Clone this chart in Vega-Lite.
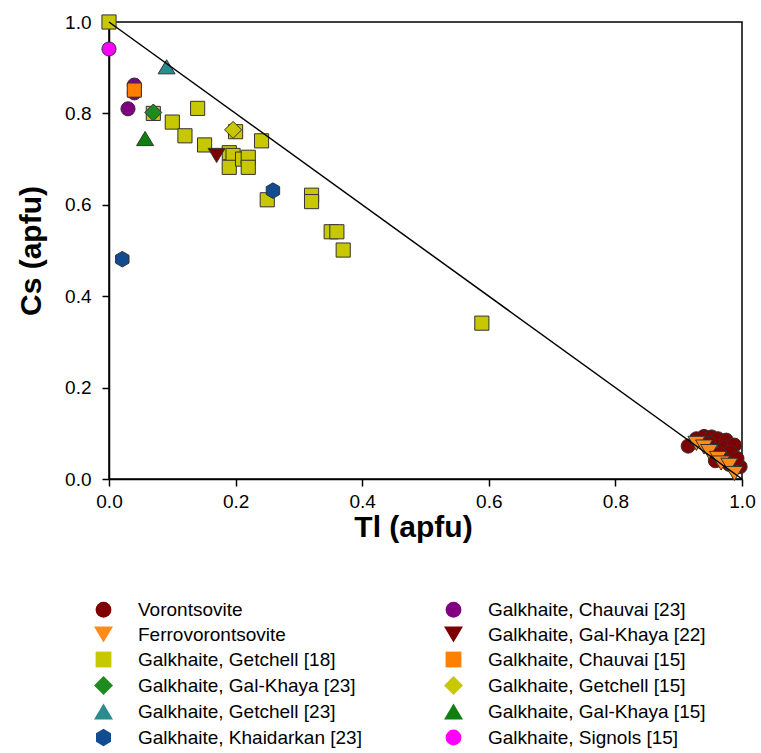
{
  "$schema": "https://vega.github.io/schema/vega-lite/v6.json",
  "autosize": "none",
  "width": 633,
  "height": 457,
  "padding": {"left": 109, "top": 22, "right": 19, "bottom": 274},
  "background": "white",
  "config": {
    "font": "Liberation Sans",
    "view": {"stroke": "black", "strokeWidth": 1.5},
    "axis": {
      "grid": false,
      "domainColor": "black",
      "domainWidth": 1.5,
      "tickColor": "black",
      "tickWidth": 1.5,
      "tickSize": 7,
      "labelColor": "black",
      "labelFont": "Liberation Sans",
      "labelFontSize": 19,
      "labelFlush": false,
      "labelOverlap": false,
      "titleColor": "black",
      "titleFont": "Liberation Sans",
      "titleFontSize": 30,
      "titleFontWeight": "bold"
    },
    "legend": {
      "orient": "none",
      "legendX": -15,
      "legendY": 578,
      "columns": 2,
      "columnPadding": 80,
      "rowPadding": 4,
      "padding": 0,
      "labelFont": "Liberation Sans",
      "labelFontSize": 19,
      "labelColor": "black",
      "labelOffset": 25,
      "labelLimit": 400,
      "symbolSize": 250,
      "symbolStrokeColor": "#333333",
      "symbolStrokeWidth": 1,
      "symbolOpacity": 1
    }
  },
  "datasets": {
    "pts": [
      {"Tl": 0.915, "Cs": 0.072, "series": "Vorontsovite"},
      {"Tl": 0.928, "Cs": 0.088, "series": "Vorontsovite"},
      {"Tl": 0.940, "Cs": 0.093, "series": "Vorontsovite"},
      {"Tl": 0.952, "Cs": 0.092, "series": "Vorontsovite"},
      {"Tl": 0.962, "Cs": 0.088, "series": "Vorontsovite"},
      {"Tl": 0.975, "Cs": 0.085, "series": "Vorontsovite"},
      {"Tl": 0.948, "Cs": 0.078, "series": "Vorontsovite"},
      {"Tl": 0.972, "Cs": 0.068, "series": "Vorontsovite"},
      {"Tl": 0.988, "Cs": 0.074, "series": "Vorontsovite"},
      {"Tl": 0.982, "Cs": 0.058, "series": "Vorontsovite"},
      {"Tl": 0.965, "Cs": 0.055, "series": "Vorontsovite"},
      {"Tl": 0.958, "Cs": 0.040, "series": "Vorontsovite"},
      {"Tl": 0.997, "Cs": 0.027, "series": "Vorontsovite"},
      {"Tl": 0.980, "Cs": 0.032, "series": "Vorontsovite"},
      {"Tl": 0.992, "Cs": 0.045, "series": "Vorontsovite"},
      {"Tl": 0.928, "Cs": 0.078, "series": "Ferrovorontsovite"},
      {"Tl": 0.940, "Cs": 0.070, "series": "Ferrovorontsovite"},
      {"Tl": 0.948, "Cs": 0.060, "series": "Ferrovorontsovite"},
      {"Tl": 0.962, "Cs": 0.045, "series": "Ferrovorontsovite"},
      {"Tl": 0.967, "Cs": 0.035, "series": "Ferrovorontsovite"},
      {"Tl": 0.980, "Cs": 0.030, "series": "Ferrovorontsovite"},
      {"Tl": 0.988, "Cs": 0.012, "series": "Ferrovorontsovite"},
      {"Tl": 0.000, "Cs": 1.000, "series": "Galkhaite, Getchell [18]"},
      {"Tl": 0.070, "Cs": 0.800, "series": "Galkhaite, Getchell [18]"},
      {"Tl": 0.140, "Cs": 0.811, "series": "Galkhaite, Getchell [18]"},
      {"Tl": 0.100, "Cs": 0.781, "series": "Galkhaite, Getchell [18]"},
      {"Tl": 0.120, "Cs": 0.751, "series": "Galkhaite, Getchell [18]"},
      {"Tl": 0.151, "Cs": 0.731, "series": "Galkhaite, Getchell [18]"},
      {"Tl": 0.200, "Cs": 0.760, "series": "Galkhaite, Getchell [18]"},
      {"Tl": 0.241, "Cs": 0.740, "series": "Galkhaite, Getchell [18]"},
      {"Tl": 0.190, "Cs": 0.714, "series": "Galkhaite, Getchell [18]"},
      {"Tl": 0.196, "Cs": 0.708, "series": "Galkhaite, Getchell [18]"},
      {"Tl": 0.190, "Cs": 0.682, "series": "Galkhaite, Getchell [18]"},
      {"Tl": 0.211, "Cs": 0.700, "series": "Galkhaite, Getchell [18]"},
      {"Tl": 0.220, "Cs": 0.704, "series": "Galkhaite, Getchell [18]"},
      {"Tl": 0.220, "Cs": 0.682, "series": "Galkhaite, Getchell [18]"},
      {"Tl": 0.250, "Cs": 0.611, "series": "Galkhaite, Getchell [18]"},
      {"Tl": 0.320, "Cs": 0.621, "series": "Galkhaite, Getchell [18]"},
      {"Tl": 0.320, "Cs": 0.607, "series": "Galkhaite, Getchell [18]"},
      {"Tl": 0.351, "Cs": 0.541, "series": "Galkhaite, Getchell [18]"},
      {"Tl": 0.360, "Cs": 0.541, "series": "Galkhaite, Getchell [18]"},
      {"Tl": 0.370, "Cs": 0.501, "series": "Galkhaite, Getchell [18]"},
      {"Tl": 0.589, "Cs": 0.341, "series": "Galkhaite, Getchell [18]"},
      {"Tl": 0.070, "Cs": 0.802, "series": "Galkhaite, Gal-Khaya [23]"},
      {"Tl": 0.091, "Cs": 0.902, "series": "Galkhaite, Getchell [23]"},
      {"Tl": 0.021, "Cs": 0.481, "series": "Galkhaite, Khaidarkan [23]"},
      {"Tl": 0.259, "Cs": 0.631, "series": "Galkhaite, Khaidarkan [23]"},
      {"Tl": 0.040, "Cs": 0.862, "series": "Galkhaite, Chauvai [23]"},
      {"Tl": 0.040, "Cs": 0.845, "series": "Galkhaite, Chauvai [23]"},
      {"Tl": 0.030, "Cs": 0.810, "series": "Galkhaite, Chauvai [23]"},
      {"Tl": 0.170, "Cs": 0.708, "series": "Galkhaite, Gal-Khaya [22]"},
      {"Tl": 0.040, "Cs": 0.851, "series": "Galkhaite, Chauvai [15]"},
      {"Tl": 0.196, "Cs": 0.764, "series": "Galkhaite, Getchell [15]"},
      {"Tl": 0.057, "Cs": 0.745, "series": "Galkhaite, Gal-Khaya [15]"},
      {"Tl": 0.000, "Cs": 0.941, "series": "Galkhaite, Signols [15]"}
    ],
    "line": [
      {"Tl": 0, "Cs": 1},
      {"Tl": 1, "Cs": 0}
    ]
  },
  "layer": [
    {
      "data": {"name": "pts"},
      "mark": {"type": "point", "filled": true, "size": 200, "stroke": "#333333", "strokeWidth": 1, "opacity": 1},
      "encoding": {
        "x": {
          "field": "Tl", "type": "quantitative",
          "scale": {"domain": [0, 1], "nice": false, "zero": false},
          "axis": {"title": "Tl (apfu)", "values": [0, 0.2, 0.4, 0.6, 0.8, 1.0], "format": ".1f", "labelPadding": 6, "titlePadding": 1, "titleX": 304}
        },
        "y": {
          "field": "Cs", "type": "quantitative",
          "scale": {"domain": [0, 1], "nice": false, "zero": false},
          "axis": {"title": "Cs (apfu)", "values": [0, 0.2, 0.4, 0.6, 0.8, 1.0], "format": ".1f", "labelPadding": 11, "titlePadding": 18}
        },
        "color": {
          "field": "series", "type": "nominal",
          "scale": {
            "domain": ["Vorontsovite", "Ferrovorontsovite", "Galkhaite, Getchell [18]", "Galkhaite, Gal-Khaya [23]", "Galkhaite, Getchell [23]", "Galkhaite, Khaidarkan [23]", "Galkhaite, Chauvai [23]", "Galkhaite, Gal-Khaya [22]", "Galkhaite, Chauvai [15]", "Galkhaite, Getchell [15]", "Galkhaite, Gal-Khaya [15]", "Galkhaite, Signols [15]"],
            "range": ["#800000", "#FF8C1A", "#C8C800", "#1F8A1F", "#2A8C8C", "#114C91", "#800080", "#7B0000", "#FF8000", "#C8C800", "#0F800F", "#FF00FF"]
          },
          "legend": {"title": null}
        },
        "shape": {
          "field": "series", "type": "nominal",
          "scale": {
            "domain": ["Vorontsovite", "Ferrovorontsovite", "Galkhaite, Getchell [18]", "Galkhaite, Gal-Khaya [23]", "Galkhaite, Getchell [23]", "Galkhaite, Khaidarkan [23]", "Galkhaite, Chauvai [23]", "Galkhaite, Gal-Khaya [22]", "Galkhaite, Chauvai [15]", "Galkhaite, Getchell [15]", "Galkhaite, Gal-Khaya [15]", "Galkhaite, Signols [15]"],
            "range": ["circle", "M0,1L1.2,-1L-1.2,-1Z", "square", "M0,-1.2L1.2,0L0,1.2L-1.2,0Z", "M0,-1L1.2,1L-1.2,1Z", "M0,-1.1L0.95,-0.55L0.95,0.55L0,1.1L-0.95,0.55L-0.95,-0.55Z", "circle", "M0,1L1.2,-1L-1.2,-1Z", "square", "M0,-1.2L1.2,0L0,1.2L-1.2,0Z", "M0,-1L1.2,1L-1.2,1Z", "circle"]
          },
          "legend": {"title": null}
        }
      }
    },
    {
      "data": {"name": "line"},
      "mark": {"type": "line", "color": "black", "strokeWidth": 1.5},
      "encoding": {
        "x": {"field": "Tl", "type": "quantitative"},
        "y": {"field": "Cs", "type": "quantitative"}
      }
    }
  ]
}
